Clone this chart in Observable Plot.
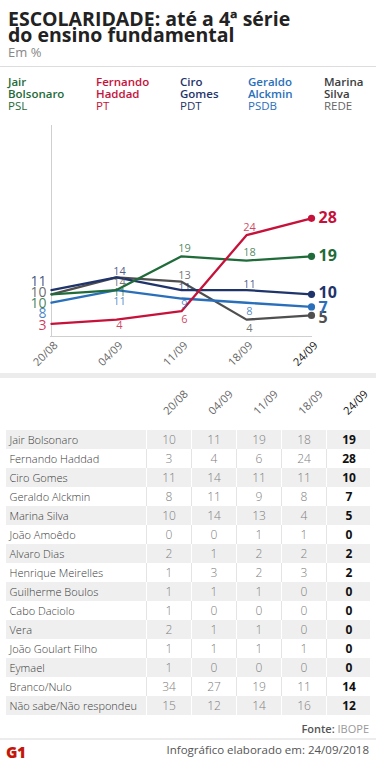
<!DOCTYPE html>
<html><head><meta charset="utf-8">
<script src="https://cdn.jsdelivr.net/npm/d3@7"></script>
<script src="https://cdn.jsdelivr.net/npm/@observablehq/plot@0.6"></script>
<style>
body{margin:0;background:#fff;font-family:"Open Sans",sans-serif;}
#root{position:relative;width:376px;height:768px;overflow:hidden;background:#fff;}
.abs{position:absolute;}
#title{left:8px;top:11px;font-size:19.5px;line-height:16px;font-weight:700;color:#222;white-space:nowrap;}
#sub{left:8px;top:45.5px;font-size:13px;line-height:13px;color:#888;}
#sep1{left:0;top:66px;width:376px;height:1px;background:#ddd;}
.leg{top:76px;font-size:11.5px;line-height:12px;white-space:nowrap;}
.leg b{font-weight:600;}
#band{left:0;top:373px;width:376px;height:5px;background:#ececec;}
#fonte{right:7px;top:721.7px;font-size:11px;line-height:14px;color:#999;}
#fonte b{color:#555;font-weight:600;}
#sep2{left:0;top:738px;width:376px;height:2px;background:#ececec;}
#g1{left:6px;top:744px;font-size:15.5px;line-height:16px;font-weight:800;color:#c4170c;letter-spacing:-0.5px;}
#info{right:7px;top:742.5px;font-size:11.5px;line-height:14px;color:#555;font-weight:500;}
</style></head><body>
<div id="root">
  <div id="title" class="abs">ESCOLARIDADE: até a 4ª série<br>do ensino fundamental</div>
  <div id="sub" class="abs">Em %</div>
  <div id="sep1" class="abs"></div>
  <div id="legend"></div>
  <div id="chart" class="abs" style="left:0;top:115px;"></div>
  <div id="band" class="abs"></div>
  <div id="table" class="abs" style="left:0;top:378px;"></div>
  <div id="fonte" class="abs"><b>Fonte:</b> IBOPE</div>
  <div id="sep2" class="abs"></div>
  <div id="g1" class="abs">G1</div>
  <div id="info" class="abs">Infográfico elaborado em: 24/09/2018</div>
</div>
<script>
// ---------- DATA ----------
const dates = ["20/08", "04/09", "11/09", "18/09", "24/09"];
const candidates = ["Jair Bolsonaro", "Fernando Haddad", "Ciro Gomes", "Geraldo Alckmin", "Marina Silva"];
const parties = ["PSL", "PT", "PDT", "PSDB", "REDE"];
const bolsonaro = [10, 11, 19, 18, 19];
const haddad = [3, 4, 6, 24, 28];
const ciro = [11, 14, 11, 11, 10];
const alckmin = [8, 11, 9, 8, 7];
const marina = [10, 14, 13, 4, 5];

const tableNames = ["Jair Bolsonaro", "Fernando Haddad", "Ciro Gomes", "Geraldo Alckmin", "Marina Silva",
  "João Amoêdo", "Alvaro Dias", "Henrique Meirelles", "Guilherme Boulos", "Cabo Daciolo", "Vera",
  "João Goulart Filho", "Eymael", "Branco/Nulo", "Não sabe/Não respondeu"];
const tableValues = [
  [10, 11, 19, 18, 19],
  [3, 4, 6, 24, 28],
  [11, 14, 11, 11, 10],
  [8, 11, 9, 8, 7],
  [10, 14, 13, 4, 5],
  [0, 0, 1, 1, 0],
  [2, 1, 2, 2, 2],
  [1, 3, 2, 3, 2],
  [1, 1, 1, 0, 0],
  [1, 0, 0, 0, 0],
  [2, 1, 1, 0, 0],
  [1, 1, 1, 1, 0],
  [1, 0, 0, 0, 0],
  [34, 27, 19, 11, 14],
  [15, 12, 14, 16, 12]
];

// ---------- STYLE ----------
const colors = {
  "Jair Bolsonaro": "#1f6b39",
  "Fernando Haddad": "#c6123a",
  "Ciro Gomes": "#1f346a",
  "Geraldo Alckmin": "#2a6fba",
  "Marina Silva": "#4f4f4f"
};
const legendX = [8, 96, 180, 248, 324];
const startDy = {"Ciro Gomes": -9, "Marina Silva": -2, "Jair Bolsonaro": 9, "Geraldo Alckmin": 11, "Fernando Haddad": 2};
const endDy = {"Ciro Gomes": -1, "Marina Silva": 2, "Jair Bolsonaro": 0, "Geraldo Alckmin": 1, "Fernando Haddad": 0};
const midDy = {
  "Jair Bolsonaro": [0, 2, -8, -8],
  "Fernando Haddad": [0, 6, 8, -8],
  "Ciro Gomes": [0, -6, -3, -6],
  "Geraldo Alckmin": [0, 11, 6, 9],
  "Marina Silva": [0, 5, -6, 9]
};
const FONT = '"Open Sans", sans-serif';

// ---------- LEGEND ----------
const legend = document.getElementById("legend");
candidates.forEach((c, i) => {
  const el = document.createElement("div");
  el.className = "abs leg";
  el.style.left = legendX[i] + "px";
  const col = c === "Marina Silva" ? "#3c3c3c" : colors[c];
  const pcol = c === "Marina Silva" ? "#666" : colors[c];
  const [first, ...rest] = c.split(" ");
  el.innerHTML = `<b style="color:${col}">${first}<br>${rest.join(" ")}</b><br><span style="color:${pcol}">${parties[i]}</span>`;
  legend.appendChild(el);
});

// ---------- LINE CHART ----------
const seriesValues = [bolsonaro, haddad, ciro, alckmin, marina];
const drawOrder = ["Marina Silva", "Geraldo Alckmin", "Ciro Gomes", "Jair Bolsonaro", "Fernando Haddad"];
const rows = drawOrder.flatMap(name => {
  const vals = seriesValues[candidates.indexOf(name)];
  return dates.map((d, i) => ({name, date: d, value: vals[i], i}));
});

const marks = [
  Plot.ruleX([dates[0]], {y1: 0, y2: 50, stroke: "#cfcfcf", strokeWidth: 1}),
  Plot.ruleY([0], {stroke: "#cfcfcf", strokeWidth: 1}),
  Plot.line(rows, {x: "date", y: "value", z: "name", stroke: d => colors[d.name], strokeWidth: 2.3}),
  Plot.dot(rows.filter(d => d.i === 4), {x: "date", y: "value", r: 3.6, fill: d => colors[d.name]}),
  Plot.text(dates, {x: d => d, frameAnchor: "bottom", rotate: -45, textAnchor: "end", lineAnchor: "bottom",
    dx: 7, dy: 9.6, fontSize: 11, fill: d => d === "24/09" ? "#111" : "#666"})
];
rows.forEach(d => {
  if (d.i === 0) {
    marks.push(Plot.text([d], {x: "date", y: "value", text: d => String(d.value), textAnchor: "end",
      dx: -5, dy: startDy[d.name], fontSize: 14, fill: colors[d.name], fillOpacity: 0.85}));
  } else if (d.i === 4) {
    marks.push(Plot.text([d], {x: "date", y: "value", text: d => String(d.value), textAnchor: "start",
      dx: 7, dy: endDy[d.name], fontSize: 16, fontWeight: 700, fill: colors[d.name]}));
  } else {
    marks.push(Plot.text([d], {x: "date", y: "value", text: d => String(d.value), textAnchor: "middle",
      dx: 3, dy: midDy[d.name][d.i], fontSize: 11, fill: colors[d.name], fillOpacity: 0.8}));
  }
});

const chart = Plot.plot({
  width: 376, height: 260,
  marginTop: 10, marginBottom: 39, marginLeft: 50, marginRight: 64,
  style: {fontFamily: FONT, background: "transparent", overflow: "visible"},
  x: {type: "point", domain: dates, range: [50, 312], padding: 0, axis: null},
  y: {domain: [0, 50], axis: null},
  color: {type: "identity"},
  marks
});
document.getElementById("chart").appendChild(chart);

// ---------- TABLE ----------
const tRows = tableNames.map((name, r) => ({name, r}));
const tCells = tableNames.flatMap((name, r) => dates.map((d, c) => ({name, r, date: d, c, value: tableValues[r][c]})));

const table = Plot.plot({
  width: 376, height: 340,
  marginTop: 52, marginBottom: 3, marginLeft: 6, marginRight: 6,
  style: {fontFamily: FONT, background: "transparent", overflow: "visible"},
  x: {type: "band", domain: dates, range: [146, 371], padding: 0, axis: null},
  y: {type: "band", domain: tableNames, range: [52, 337], padding: 0, axis: null},
  color: {type: "identity"},
  marks: [
    Plot.cell(tRows, {y: "name", fill: d => d.r % 2 === 0 ? "#efefef" : "#ffffff"}),
    Plot.cell(tCells, {x: "date", y: "name", fill: d => d.r % 2 === 0 ? "#ffffff" : "#e4e4e4", insetRight: 44}),
    Plot.text(tRows, {y: "name", text: "name", frameAnchor: "left", textAnchor: "start", dx: 3,
      fontSize: 11, fontWeight: 300, fill: "#3a3a3a"}),
    Plot.text(tCells.filter(d => d.c < 4), {x: "date", y: "name", text: d => String(d.value),
      fontSize: 12, fontWeight: 300, fill: "#808080"}),
    Plot.text(tCells.filter(d => d.c === 4), {x: "date", y: "name", text: d => String(d.value),
      fontSize: 12, fontWeight: 700, fill: "#111"}),
    Plot.text(dates, {x: d => d, frameAnchor: "top", rotate: -45, textAnchor: "start", lineAnchor: "bottom",
      dx: -1, dy: -15, fontSize: 11, fontWeight: 400, fill: d => d === "24/09" ? "#111" : "#666"})
  ]
});
document.getElementById("table").appendChild(table);
</script>
</body></html>
